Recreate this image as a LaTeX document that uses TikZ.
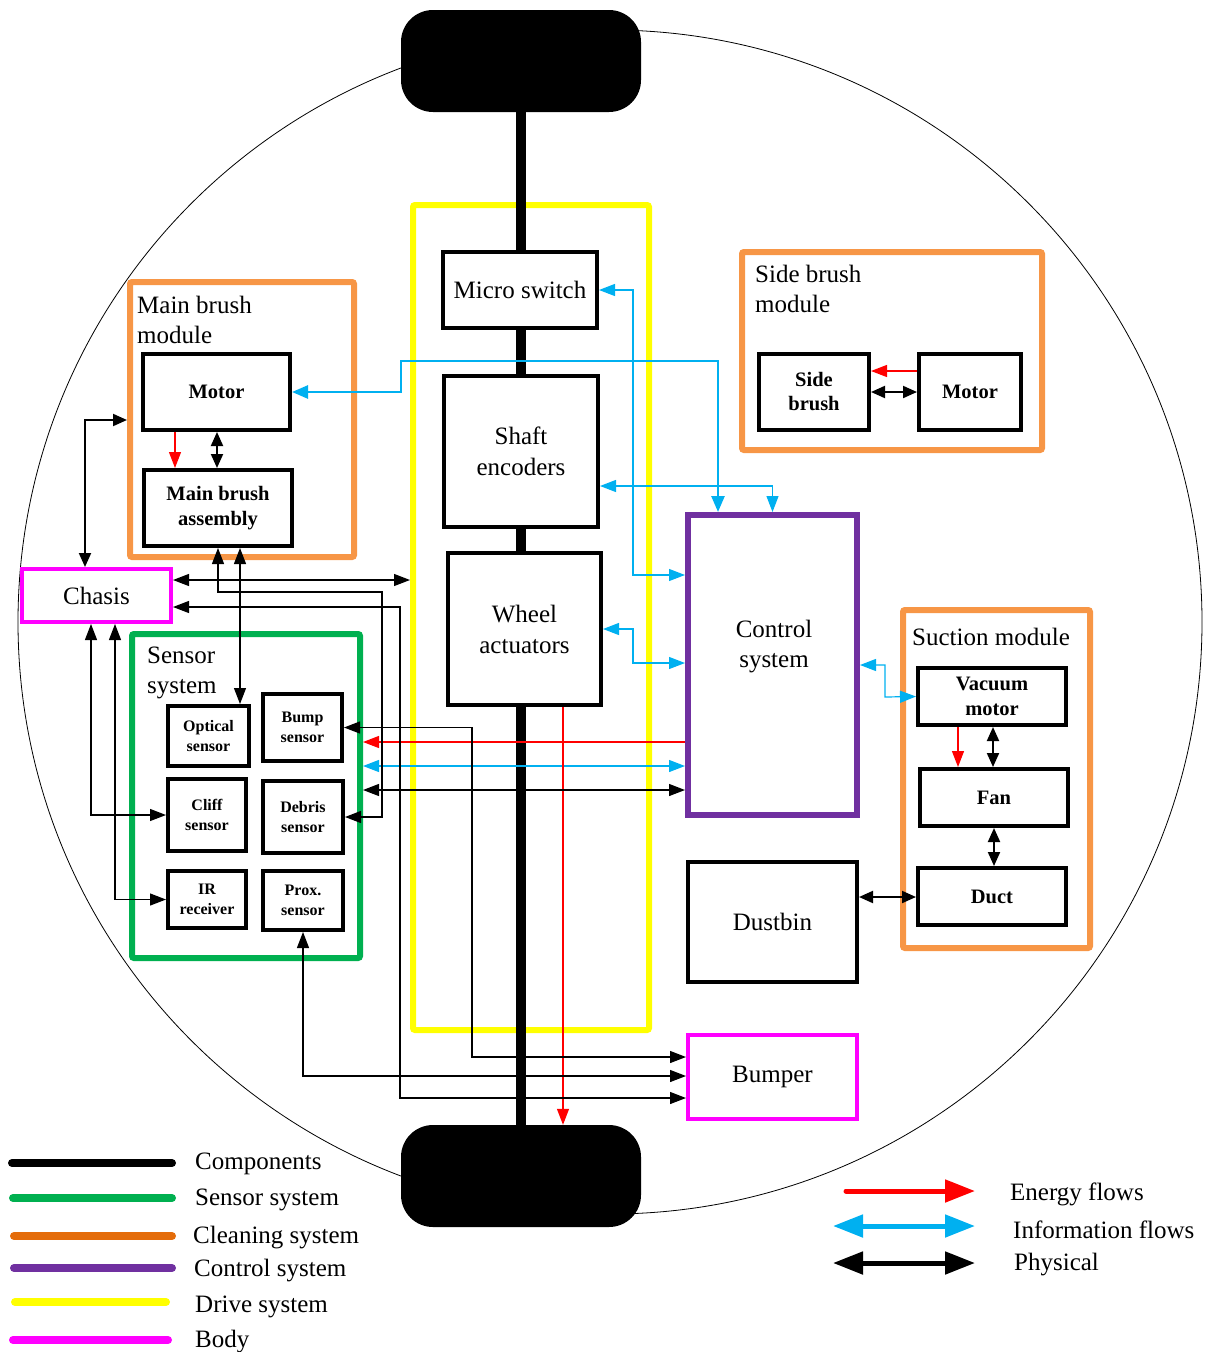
\documentclass[tikz,border=0pt]{standalone}
\usepackage{fontspec}
\setmainfont{Liberation Serif}
\usetikzlibrary{arrows.meta}
\definecolor{orangebox}{RGB}{247,150,70}
\definecolor{cleanorange}{RGB}{228,108,10}
\definecolor{sensgreen}{RGB}{0,176,80}
\definecolor{ctrlpurple}{RGB}{112,48,160}
\definecolor{infoblue}{RGB}{0,176,240}
\definecolor{bodymag}{RGB}{255,0,255}
\definecolor{drivey}{RGB}{255,255,0}
\tikzset{
  comp/.style={draw, line width=4pt, fill=white, align=center, inner sep=0pt, font=\fontsize{25}{31}\selectfont},
  bcomp/.style={comp, font=\bfseries\fontsize{20.5}{25}\selectfont},
  sens/.style={comp, font=\bfseries\fontsize{16}{20}\selectfont},
  bodybox/.style={comp, draw=bodymag},
  grp/.style={draw, line width=6pt, rounded corners=2pt, inner sep=0pt},
  grplbl/.style={anchor=north west, align=left, inner sep=0pt, font=\fontsize{25}{30}\selectfont},
  wheelnode/.style={fill=black, rounded corners=32pt, minimum width=240pt, minimum height=102pt, inner sep=0pt},
  phys/.style={draw=black, line width=1.2pt},
  physbold/.style={draw=black, line width=2pt, >={Triangle[length=14pt,width=12pt]}},
  info/.style={draw=infoblue, line width=1.2pt, >={Triangle[length=16pt,width=12pt,fill=infoblue]}},
  infobold/.style={draw=infoblue, line width=2.6pt, >={Triangle[length=16pt,width=13pt]}},
  energy/.style={draw=red, line width=1.2pt, >={Triangle[length=16pt,width=12pt]}},
  lgline/.style={line width=8pt, line cap=round},
  lgtext/.style={anchor=west, inner sep=0pt, font=\fontsize{25}{30}\selectfont},
  lgarrow/.style={line width=5pt, >={Triangle[length=30pt,width=22pt]}},
}
\begin{document}
\begin{tikzpicture}[x=1pt,y=-1pt,>={Triangle[length=16pt,width=12pt]}]
\useasboundingbox (0,0) rectangle (1205,1352);

% outline of the robot body
\draw[line width=0.8pt] (610,622) circle[radius=592pt];

% wheels and axle
\node[wheelnode] (topw) at (521,61) {};
\node[wheelnode] (botw) at (521,1176) {};

% subsystem frames
\node[grp, draw=drivey, minimum width=236pt, minimum height=825pt] (drive) at (531,617.5) {};
\node[grp, draw=orangebox, minimum width=224pt, minimum height=275pt] (mbmod) at (242,419.5) {};
\node[grp, draw=sensgreen, minimum width=228pt, minimum height=324pt] (sensys) at (246,796) {};
\node[grp, draw=orangebox, minimum width=300pt, minimum height=198pt] (sbmod) at (892,351) {};
\node[grp, draw=orangebox, minimum width=187pt, minimum height=338pt] (sucmod) at (996.5,779) {};

\draw[line width=10pt] (topw.south) -- (botw.north);

% frame titles
\node[grplbl] (mbmodlbl) at (137,296) {Main brush\\module};
\node[grplbl] (sensyslbl) at (147,647) {Sensor\\system};
\node[grplbl] (sbmodlbl) at (755,265) {Side brush\\module};
\node[grplbl] (sucmodlbl) at (912,628) {Suction module};

% drive system
\node[comp, minimum width=154pt, minimum height=76pt] (micro) at (520,290) {Micro switch};
\node[comp, minimum width=154pt, minimum height=151pt] (shaft) at (521,451.5) {Shaft\\encoders};
\node[comp, minimum width=153pt, minimum height=152pt] (wheel) at (524.5,629) {Wheel\\actuators};

% main brush module
\node[bcomp, minimum width=147pt, minimum height=76pt] (mbmotor) at (216.5,392) {Motor};
\node[bcomp, minimum width=148pt, minimum height=76pt] (mbassy) at (218,508) {Main brush\\assembly};

% body
\node[bodybox, minimum width=149pt, minimum height=53pt] (chasis) at (96.5,595.5) {Chasis};
\node[bodybox, minimum width=169pt, minimum height=84pt] (bumper) at (772.5,1077) {Bumper};

% sensors
\node[sens, minimum width=81pt, minimum height=60pt] (optical) at (208.5,736) {Optical\\sensor};
\node[sens, minimum width=79pt, minimum height=67pt] (bump) at (302.5,727.5) {Bump\\sensor};
\node[sens, minimum width=78pt, minimum height=72pt] (cliff) at (207,815) {Cliff\\sensor};
\node[sens, minimum width=80pt, minimum height=72pt] (debris) at (303,817) {Debris\\sensor};
\node[sens, minimum width=78pt, minimum height=57pt] (ir) at (207,899.5) {IR\\receiver};
\node[sens, minimum width=80pt, minimum height=59pt] (prox) at (303,900.5) {Prox.\\sensor};

% side brush module
\node[bcomp, minimum width=110pt, minimum height=76pt, font=\bfseries\fontsize{20.5}{24}\selectfont] (sidebrush) at (814,392) {Side\\brush};
\node[bcomp, minimum width=102pt, minimum height=76pt] (sbmotor) at (970,392) {Motor};

% control, suction, dustbin
\node[comp, draw=ctrlpurple, line width=6pt, minimum width=169pt, minimum height=300pt] (control) at (772.5,665) {};
\node[align=center, inner sep=0pt, font=\fontsize{25}{30}\selectfont] (controllbl) at (774,647) {Control\\system};
\node[bcomp, minimum width=148pt, minimum height=57pt] (vacmotor) at (992,696.5) {Vacuum\\motor};
\node[bcomp, minimum width=148pt, minimum height=57pt] (fan) at (994,797.5) {Fan};
\node[bcomp, minimum width=148pt, minimum height=57pt] (duct) at (992,896.5) {Duct};
\node[comp, minimum width=169pt, minimum height=120pt] (dustbin) at (772.5,922) {Dustbin};

% routing points
\coordinate (b361) at (401,361);
\coordinate (m575) at (633,575);
\coordinate (s486) at (0,486);
\coordinate (w663) at (633,663);
\coordinate (v697) at (885,697);
\coordinate (r742) at (0,742);
\coordinate (i766) at (0,766);
\coordinate (p790) at (0,790);
\coordinate (c580) at (0,580);
\coordinate (bp1) at (472,1057);
\coordinate (db1) at (382,592);
\coordinate (ch1) at (400,1098);
\coordinate (pr1) at (0,1076);
\coordinate (mb1) at (85,420);

% information flows
\draw[infobold,<->] (mbmotor.east) -| (b361) -| ([xshift=-54.5pt]control.north);
\draw[info,<->] (micro.east) -| (m575) -- (m575 -| control.west);
\draw[info,<->] (shaft.east |- s486) -| (control.north);
\draw[info,<->] (wheel.east) -| (w663) -- (w663 -| control.west);
\draw[info,<->] (control.east) -| (v697) -- (vacmotor.west);
\draw[info,<->] (sensys.east |- i766) -- (control.west |- i766);

% energy flows
\draw[energy,->] (control.west |- r742) -- (sensys.east |- r742);
\draw[energy,->] ([xshift=-41.5pt]mbmotor.south) -- ([xshift=-41.5pt]mbmotor.south |- mbassy.north);
\draw[energy,->] ([yshift=21pt]sbmotor.west) -- ([yshift=21pt]sidebrush.east);
\draw[energy,->] ([xshift=-34pt]vacmotor.south) -- ([xshift=-34pt]vacmotor.south |- fan.north);
\draw[energy,->] ([xshift=38.5pt]wheel.south) -- ([xshift=38.5pt]wheel.south |- botw.north);

% physical links
\draw[phys,<->] (sensys.east |- p790) -- (control.west |- p790);
\draw[phys,<->] (bump.east) -| (bp1) -- (bp1 -| bumper.west);
\draw[phys,<->] (debris.east) -| (db1) -| (mbassy.south);
\draw[phys,<->] ([xshift=22pt]mbassy.south) -- ([xshift=22pt]mbassy.south |- optical.north);
\draw[phys,<->] (chasis.east |- c580) -- (drive.west |- c580);
\draw[phys,<->] ([yshift=-11.5pt]chasis.east) -| (ch1) -- (ch1 -| bumper.west);
\draw[phys,<->] (prox.south) |- (bumper.west |- pr1);
\draw[phys,<->] ([xshift=-5.5pt]chasis.south) |- (cliff.west);
\draw[phys,<->] ([xshift=18.5pt]chasis.south) |- (ir.west);
\draw[physbold,<->] ([xshift=-11.5pt]chasis.north) |- (mb1 -| mbmod.west);
\draw[physbold,<->] ([xshift=0.5pt]mbmotor.south) -- ([xshift=0.5pt]mbmotor.south |- mbassy.north);
\draw[physbold,<->] (sidebrush.east) -- (sbmotor.west);
\draw[physbold,<->] ([xshift=1pt]vacmotor.south) -- ([xshift=1pt]vacmotor.south |- fan.north);
\draw[physbold,<->] (fan.south) -- (fan.south |- duct.north);
\draw[physbold,<->] ([yshift=25pt]dustbin.east) -- ([yshift=25pt]dustbin.east -| duct.west);

% legend: subsystems
\draw[lgline, black] (12,1163) -- (172,1163);
\draw[lgline, sensgreen] (13,1198) -- (172,1198);
\draw[lgline, cleanorange] (14,1236) -- (172,1236);
\draw[lgline, ctrlpurple] (14,1268) -- (172,1268);
\draw[lgline, drivey] (15,1302) -- (166,1302);
\draw[lgline, bodymag] (13,1340) -- (168,1340);
\node[lgtext] (lgcomp) at (195,1164) {Components};
\node[lgtext] (lgsens) at (195,1200) {Sensor system};
\node[lgtext] (lgclean) at (193,1238) {Cleaning system};
\node[lgtext] (lgctrl) at (194,1271) {Control system};
\node[lgtext] (lgdrive) at (195,1307) {Drive system};
\node[lgtext] (lgbody) at (195,1342) {Body};

% legend: flows
\draw[lgarrow, red, ->, line cap=round] (846,1191) -- (975,1191);
\draw[lgarrow, infoblue, <->] (833,1226) -- (975,1226);
\draw[lgarrow, black, <->] (833,1263) -- (975,1263);
\node[lgtext] (lgenergy) at (1010,1194) {Energy flows};
\node[lgtext] (lginfo) at (1013,1230) {Information flows};
\node[lgtext] (lgphys) at (1014,1265) {Physical};
\end{tikzpicture}
\end{document}
